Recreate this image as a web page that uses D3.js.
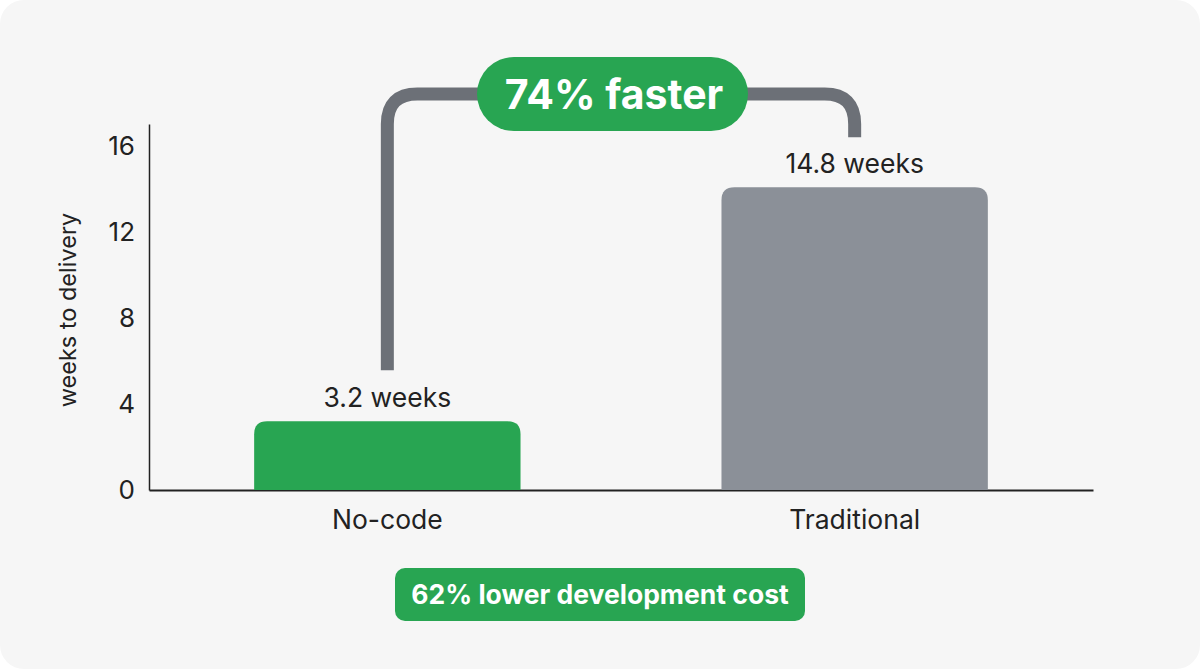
<!DOCTYPE html>
<html>
<head>
<meta charset="utf-8">
<script src="https://cdn.jsdelivr.net/npm/d3@7"></script>
<style>
  html, body { margin: 0; padding: 0; background: #ffffff; }
  svg { display: block; font-family: Inter, "Noto Sans", sans-serif; }
</style>
</head>
<body>
<script>
var width = 1200,
  height = 669;

// data
var categories = ["No-code", "Traditional"];
var weeks = [3.2, 14.8];          // value shown in the labels
var barWeeks = [3.2, 14.1];       // bar heights as drawn
var yTicks = [0, 4, 8, 12, 16];
var fasterText = "74% faster";
var costText = "62% lower development cost";
var barColors = ["#28a552", "#8b9098"];

var svg = d3.select("body")
  .append("svg")
  .attr("width", width)
  .attr("height", height);

// card background
svg.append("rect")
  .attr("width", width)
  .attr("height", height)
  .attr("rx", 24)
  .attr("fill", "#f6f6f6");

//----------scales----------
var x = d3.scaleBand()
  .domain(categories)
  .range([149, 1093])
  .paddingInner(0.43)
  .paddingOuter(0.225);

var y = d3.scaleLinear()
  .domain([0, 17.05])
  .range([490, 124]);

//----------Y axis----------
var yAxis = svg.append("g")
  .attr("transform", "translate(149,0)")
  .call(d3.axisLeft(y).tickValues(yTicks).tickSize(0).tickPadding(14));
yAxis.select(".domain").attr("stroke", "#222").attr("stroke-width", 1.5);
yAxis.selectAll("text")
  .attr("fill", "#222")
  .style("font-size", "26px")
  .style("font-family", "Inter, sans-serif");

svg.append("text")
  .attr("transform", "translate(76,310) rotate(-90)")
  .attr("text-anchor", "middle")
  .attr("fill", "#222")
  .style("font-size", "23.5px")
  .text("weeks to delivery");

//----------X axis----------
var xAxis = svg.append("g")
  .attr("transform", "translate(0,490)")
  .call(d3.axisBottom(x).tickSize(0).tickPadding(20));
xAxis.select(".domain").attr("stroke", "#222").attr("stroke-width", 2);
xAxis.selectAll("text")
  .attr("fill", "#222")
  .style("font-size", "26.5px")
  .style("font-family", "Inter, sans-serif");

//----------bars (rounded top only)----------
function topRounded(x0, y0, w, h, r) {
  return "M" + x0 + "," + (y0 + h) +
    "V" + (y0 + r) +
    "Q" + x0 + "," + y0 + " " + (x0 + r) + "," + y0 +
    "H" + (x0 + w - r) +
    "Q" + (x0 + w) + "," + y0 + " " + (x0 + w) + "," + (y0 + r) +
    "V" + (y0 + h) + "Z";
}

svg.selectAll("path.bar")
  .data(categories)
  .enter()
  .append("path")
  .attr("class", "bar")
  .attr("fill", function (d, i) { return barColors[i]; })
  .attr("d", function (d, i) {
    var top = y(barWeeks[i]);
    return topRounded(x(d), top, x.bandwidth(), y(0) - top, 13);
  });

svg.selectAll("text.value")
  .data(categories)
  .enter()
  .append("text")
  .attr("class", "value")
  .attr("x", function (d) { return x(d) + x.bandwidth() / 2; })
  .attr("y", function (d, i) { return y(barWeeks[i]) - 14; })
  .attr("text-anchor", "middle")
  .attr("fill", "#222")
  .style("font-size", "26.5px")
  .text(function (d, i) { return weeks[i] + " weeks"; });

//----------bracket----------
var lx = x(categories[0]) + x.bandwidth() / 2,
  rx = x(categories[1]) + x.bandwidth() / 2,
  ly = y(barWeeks[0]) - 51,
  ry = y(barWeeks[1]) - 50,
  topY = 94,
  cr = 30;

svg.append("path")
  .attr("fill", "none")
  .attr("stroke", "#6c7077")
  .attr("stroke-width", 13)
  .attr("d", "M" + lx + "," + ly +
    "V" + (topY + cr) +
    "Q" + lx + "," + topY + " " + (lx + cr) + "," + topY +
    "H" + (rx - cr) +
    "Q" + rx + "," + topY + " " + rx + "," + (topY + cr) +
    "V" + ry);

// "74% faster" pill
svg.append("rect")
  .attr("x", 477)
  .attr("y", 57)
  .attr("width", 271)
  .attr("height", 74)
  .attr("rx", 37)
  .attr("fill", "#28a552");

svg.append("text")
  .attr("x", 614)
  .attr("y", 109)
  .attr("text-anchor", "middle")
  .attr("fill", "#ffffff")
  .style("font-size", "41px")
  .style("font-weight", 700)
  .text(fasterText);

//----------cost badge----------
svg.append("rect")
  .attr("x", 395)
  .attr("y", 568)
  .attr("width", 410)
  .attr("height", 53)
  .attr("rx", 10)
  .attr("fill", "#28a552");

svg.append("text")
  .attr("x", 600)
  .attr("y", 604)
  .attr("text-anchor", "middle")
  .attr("fill", "#ffffff")
  .style("font-size", "26.5px")
  .style("font-weight", 700)
  .text(costText);
</script>
</body>
</html>
